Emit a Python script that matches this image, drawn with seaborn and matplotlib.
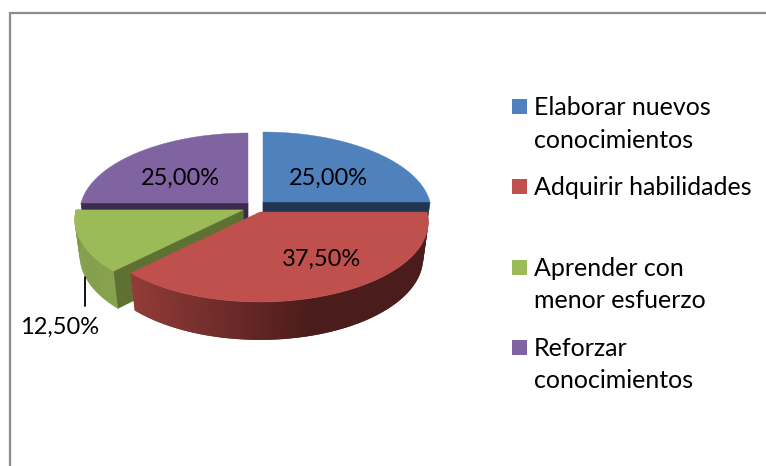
"""
Exploded 3D-look pie of learning purposes, drawn on a pixel-sized axes.
"""

import numpy as np
import matplotlib.pyplot as plt
from matplotlib.colors import to_rgb
from matplotlib.patches import Polygon, Rectangle
import seaborn as sns

categories = ["Elaborar nuevos\nconocimientos", "Adquirir habilidades",
              "Aprender con\nmenor esfuerzo", "Reforzar\nconocimientos"]
values = [25.0, 37.5, 12.5, 25.0]
palette = sns.color_palette(["#4F81BD", "#C0504D", "#9BBB59", "#8064A2"])
face_colors = ["#1F3552", "#4A1C1B", "#5E7133", "#3A2A4E"]
side_left = ["#1F3552", "#943C39", "#7F9B47", "#3A2A4E"]
side_right = ["#1F3552", "#4A1C1B", "#86A24D", "#3A2A4E"]

# slice apex per category (the explosion), px
centers = [(263, 202), (260, 212), (243, 210), (248, 203)]
label_pos = [(328, 178), (322, 259), (60, 327), (180, 178)]
legend_y = [99, 179, 260, 340]

RX, RY, K = 167, 78.75, 0.125  # K = perspective strength
DROP, BOTTOM = 36, 0.97

sns.set_theme(style="white")
plt.rcParams["font.family"] = ["Lato", "DejaVu Sans"]


def project(cx, cy, t, r=1.0, drop=0.0):
    s = 1 / (1 + K * r * np.sin(t))
    return cx + RX * r * np.cos(t) * s, cy - RY * r * np.sin(t) * s + drop * s


def lerp(c1, c2, f):
    a, b = np.array(to_rgb(c1)), np.array(to_rgb(c2))
    return tuple(a + (b - a) * f)


def draw_slice(ax, i, start, end):
    cx, cy = centers[i]
    ts = np.radians(np.linspace(start, end, 80))

    # inner walls, only the ones facing the viewer
    for t in (start, end):
        if -180 <= t <= 0 and i != 1:
            rad = np.radians(t)
            quad = [project(cx, cy, rad, 0), project(cx, cy, rad),
                    project(cx, cy, rad, BOTTOM, DROP), project(cx, cy, rad, 0, DROP)]
            ax.add_patch(Polygon(quad, fc=face_colors[i], ec=face_colors[i], lw=0.5))

    # outer wall in strips for the shading, each overlaps the next so no seams show
    front = ts[np.sin(ts) <= 1e-9]
    if len(front) > 1:
        xs = [project(cx, cy, t)[0] for t in front]
        x0, span = min(xs), max(xs) - min(xs)
        for j in range(len(front) - 1):
            a, b = front[j], front[min(j + 2, len(front) - 1)]
            quad = [project(cx, cy, a), project(cx, cy, b),
                    project(cx, cy, b, BOTTOM, DROP), project(cx, cy, a, BOTTOM, DROP)]
            f = np.clip((xs[j] - x0) / (span * 0.62), 0, 1)
            col = lerp(side_left[i], side_right[i], f)
            ax.add_patch(Polygon(quad, fc=col, ec="none"))

    # top surface
    pts = [project(cx, cy, t) for t in ts]
    pts.append(project(cx, cy, 0, 0))
    ax.add_patch(Polygon(pts, fc=palette[i], ec=palette[i], lw=0.3))


fig = plt.figure(figsize=(7.66, 4.66), dpi=100)
ax = fig.add_axes([0, 0, 1, 1])
ax.set_xlim(0, 766)
ax.set_ylim(466, 0)
ax.axis("off")

# chart frame, cut off by the picture on the right and at the bottom
ax.plot([10, 10, 766], [466, 13, 13], color="#8C8C8C", lw=1.6, solid_joinstyle="miter")

starts = 90 - 3.6 * np.concatenate([[0], np.cumsum(values)[:-1]])
ends = starts - 3.6 * np.array(values)
for i in [3, 0, 2, 1]:
    draw_slice(ax, i, starts[i], ends[i])

ax.plot([85, 85], [277, 306], color="black", lw=1.3)

for v, (x, y) in zip(values, label_pos):
    ax.text(x, y, f"{v:.2f}%".replace(".", ","), fontsize=17, color="black",
            ha="center", va="center")

for i, (name, y) in enumerate(zip(categories, legend_y)):
    ax.add_patch(Rectangle((512, y), 15, 15, fc=palette[i], ec="none"))
    ax.text(534, y - 3, name, fontsize=18, color="black", ha="left", va="top", linespacing=1.5)

fig.savefig("out.png", dpi=100)
